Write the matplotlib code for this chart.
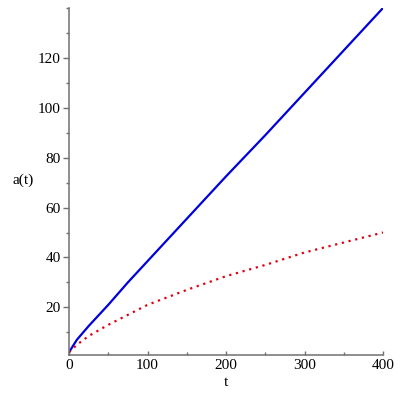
import matplotlib
matplotlib.use("Agg")
import matplotlib.pyplot as plt
from matplotlib.ticker import MultipleLocator

plt.rcParams['font.family'] = ['Liberation Serif', 'DejaVu Serif']

# values
t = [0, 10, 25, 50, 75, 100, 150, 200, 250, 300, 350, 400]
a_blue = [2, 7, 12.5, 21, 30, 38.5, 55.5, 72.5, 89, 106, 123, 140]
a_red = [2, 5, 8.5, 13, 17, 21, 27, 32.5, 37, 42, 46, 50]

fig = plt.figure(figsize=(4, 4), dpi=100)
ax = fig.add_axes([0.1725, 0.1125, 0.785, 0.8675])

ax.plot(t, a_blue, color='#0000dd', lw=1.6, solid_capstyle='butt')
ax.plot(t, a_red, color='#e00010', lw=1.6, ls=(0, (1, 2.1)))

ax.set_xlim(0, 400)
ax.set_ylim(0.9, 140)

for s in ['top', 'right']:
    ax.spines[s].set_visible(False)
for s in ['left', 'bottom']:
    ax.spines[s].set_color('#707070')
    ax.spines[s].set_linewidth(1.1)

ax.xaxis.set_major_locator(MultipleLocator(100))
ax.xaxis.set_minor_locator(MultipleLocator(50))
ax.yaxis.set_major_locator(MultipleLocator(20))
ax.yaxis.set_minor_locator(MultipleLocator(10))
ax.set_yticks([20, 40, 60, 80, 100, 120])

ax.tick_params(axis='both', which='both', colors='#707070', labelcolor='black',
               labelsize=11, width=1)
ax.tick_params(axis='y', which='major', direction='out', length=4, pad=2)
ax.tick_params(axis='y', which='minor', direction='out', length=2.5)
ax.tick_params(axis='x', which='major', direction='in', length=3, pad=3)
ax.tick_params(axis='x', which='minor', direction='in', length=2.5)

ax.set_xlabel('t', fontsize=11, labelpad=3)
ax.set_ylabel('a(t)', fontsize=11, rotation=0, va='center')
ax.yaxis.set_label_coords(-0.145, 0.505)

fig.savefig('out.png', dpi=100)
